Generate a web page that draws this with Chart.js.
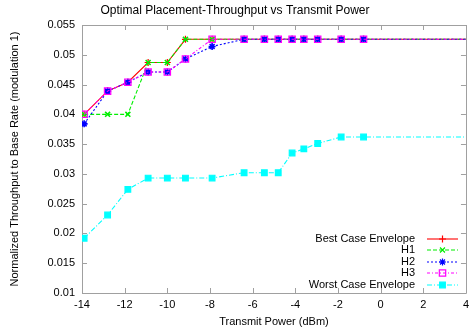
<!DOCTYPE html>
<html>
<head>
<meta charset="utf-8">
<script src="https://cdn.jsdelivr.net/npm/chart.js@4/dist/chart.umd.min.js"></script>
<style>
  html, body { margin: 0; padding: 0; background: #ffffff; }
  #wrap { width: 474px; height: 333px; position: relative; }
</style>
</head>
<body>
<div id="wrap"><canvas id="c" width="474" height="333"></canvas></div>
<script>
// ---- data ----
const power = [-13.9, -12.8, -11.85, -10.9, -10.0, -9.15, -7.9, -6.4, -5.45, -4.8, -4.15, -3.6, -2.95, -1.85, -0.8, 5];
const bestCase = [0.0400, 0.0439, 0.0454, 0.0487, 0.0487, 0.0526, 0.0526, 0.0526, 0.0526, 0.0526, 0.0526, 0.0526, 0.0526, 0.0526, 0.0526, 0.0526];
const h1 = [0.0400, 0.0400, 0.0400, 0.0487, 0.0487, 0.0526, 0.0526, 0.0526, 0.0526, 0.0526, 0.0526, 0.0526, 0.0526, 0.0526, 0.0526, 0.0526];
const h2 = [0.0384, 0.0439, 0.0454, 0.0471, 0.0471, 0.0493, 0.0514, 0.0526, 0.0526, 0.0526, 0.0526, 0.0526, 0.0526, 0.0526, 0.0526, 0.0526];
const h3 = [0.0400, 0.0439, 0.0454, 0.0471, 0.0471, 0.0493, 0.0526, 0.0526, 0.0526, 0.0526, 0.0526, 0.0526, 0.0526, 0.0526, 0.0526, 0.0526];
const worstCase = [0.0192, 0.0231, 0.0274, 0.0293, 0.0293, 0.0293, 0.0293, 0.0302, 0.0302, 0.0302, 0.0335, 0.0342, 0.0351, 0.0362, 0.0362, 0.0362];
const seriesNames = ['Best Case Envelope', 'H1', 'H2', 'H3', 'Worst Case Envelope'];
const xTicks = [-14, -12, -10, -8, -6, -4, -2, 0, 2, 4];
const yTicks = [0.01, 0.015, 0.02, 0.025, 0.03, 0.035, 0.04, 0.045, 0.05, 0.055];
const yTickLabels = ['0.01', '0.015', '0.02', '0.025', '0.03', '0.035', '0.04', '0.045', '0.05', '0.055'];
const chartTitle = 'Optimal Placement-Throughput vs Transmit Power';
const xTitle = 'Transmit Power (dBm)';
const yTitle = 'Normalized Throughput to Base Rate (modulation 1)';

const FONT = "'Liberation Sans', Arial, Helvetica, sans-serif";
const FRAME = '#a0a0a0';

function pts(ys) { return power.map((x, i) => ({ x: x, y: ys[i] })); }

const styles = [
  { color: '#ff0000', dash: [], pointStyle: 'cross', radius: 3.5, fill: '#ff0000' },
  { color: '#00ee00', dash: [4, 2], pointStyle: 'crossRot', radius: 3.5, fill: '#00ee00' },
  { color: '#0000ff', dash: [2, 2], pointStyle: 'star', radius: 3.5, fill: '#0000ff' },
  { color: '#ff00ff', dash: [3, 2, 1, 2], pointStyle: 'rect', radius: 4.5, fill: 'rgba(0,0,0,0)' },
  { color: '#00ffff', dash: [5, 2, 1, 2], pointStyle: 'rect', radius: 4, fill: '#00ffff' }
];
const seriesValues = [bestCase, h1, h2, h3, worstCase];

const datasets = seriesNames.map((name, i) => ({
  label: name,
  data: pts(seriesValues[i]),
  borderColor: styles[i].color,
  backgroundColor: styles[i].fill,
  borderWidth: 1.1,
  borderDash: styles[i].dash,
  pointStyle: styles[i].pointStyle,
  pointRadius: styles[i].radius,
  pointBorderColor: styles[i].color,
  pointBackgroundColor: styles[i].fill,
  pointBorderWidth: (i === 2 || i === 1) ? 1.6 : 1.2,
  tension: 0,
  fill: false,
  order: 5 - i
}));

const framePlugin = {
  id: 'frame',
  beforeDatasetsDraw(chart) {
    const ctx = chart.ctx, a = chart.chartArea;
    const xs = chart.scales.x, ys = chart.scales.y;
    ctx.save();
    ctx.strokeStyle = FRAME;
    ctx.lineWidth = 1;
    ctx.beginPath();
    ctx.rect(Math.round(a.left) + 0.5, Math.round(a.top) + 0.5, Math.round(a.right - a.left), Math.round(a.bottom - a.top));
    ctx.stroke();
    const L = 5;
    ctx.beginPath();
    xTicks.forEach(v => {
      const px = Math.round(xs.getPixelForValue(v)) + 0.5;
      ctx.moveTo(px, a.bottom); ctx.lineTo(px, a.bottom - L);
      ctx.moveTo(px, a.top); ctx.lineTo(px, a.top + L);
    });
    yTicks.forEach(v => {
      const py = Math.round(ys.getPixelForValue(v)) + 0.5;
      ctx.moveTo(a.left, py); ctx.lineTo(a.left + L, py);
      ctx.moveTo(a.right, py); ctx.lineTo(a.right - L, py);
    });
    ctx.stroke();
    ctx.restore();
  }
};

function drawMarker(ctx, st, x, y) {
  const opts = { pointStyle: st.pointStyle, radius: st.radius, borderWidth: 1.2, rotation: 0 };
  ctx.save();
  ctx.setLineDash([]);
  ctx.strokeStyle = st.color;
  ctx.fillStyle = st.fill;
  ctx.lineWidth = 1.2;
  if (Chart.helpers && Chart.helpers.drawPoint) {
    Chart.helpers.drawPoint(ctx, opts, x, y);
  }
  ctx.restore();
}

const legendPlugin = {
  id: 'customLegend',
  afterDraw(chart) {
    const ctx = chart.ctx;
    const textRight = 415, lineL = 427, lineR = 458, y0 = 239, step = 11.4;
    ctx.save();
    ctx.font = '11px ' + FONT;
    ctx.textAlign = 'right';
    ctx.textBaseline = 'middle';
    seriesNames.forEach((name, i) => {
      const y = Math.round(y0 + i * step);
      ctx.fillStyle = '#000000';
      ctx.fillText(name, textRight, y);
      const st = styles[i];
      ctx.globalAlpha = 1;
      ctx.globalCompositeOperation = 'source-over';
      ctx.strokeStyle = st.color;
      ctx.lineWidth = 1.1;
      ctx.setLineDash(st.dash);
      ctx.beginPath();
      ctx.moveTo(lineL, y); ctx.lineTo(lineR, y);
      ctx.stroke();
      drawMarker(ctx, st, (lineL + lineR) / 2, y);
    });
    ctx.restore();
  }
};

new Chart(document.getElementById('c'), {
  type: 'line',
  data: { datasets: datasets },
  options: {
    responsive: false,
    animation: false,
    devicePixelRatio: 1,
    layout: { padding: { left: 0, right: 4, top: 0, bottom: 0 } },
    plugins: {
      legend: { display: false },
      tooltip: { enabled: false },
      title: {
        display: true,
        text: chartTitle,
        color: '#000000',
        font: { family: FONT, size: 12, weight: 'normal' },
        padding: { top: 3, bottom: 7.6 }
      }
    },
    scales: {
      x: {
        type: 'linear',
        min: -14,
        max: 4,
        afterBuildTicks: s => { s.ticks = xTicks.map(v => ({ value: v })); },
        afterFit: s => { s.height = 40; },
        grid: { display: false, drawTicks: false },
        border: { display: false },
        ticks: {
          color: '#000000',
          font: { family: FONT, size: 11 },
          padding: 5,
          maxRotation: 0,
          autoSkip: false,
          callback: v => String(v)
        },
        title: {
          display: true,
          text: xTitle,
          color: '#000000',
          font: { family: FONT, size: 11 },
          padding: { top: 0, bottom: 4.4 }
        }
      },
      y: {
        type: 'linear',
        min: 0.01,
        max: 0.055,
        afterBuildTicks: s => { s.ticks = yTicks.map(v => ({ value: v })); },
        afterFit: s => { s.width = 82; },
        grid: { display: false, drawTicks: false },
        border: { display: false },
        ticks: {
          color: '#000000',
          font: { family: FONT, size: 11 },
          padding: 7,
          autoSkip: false,
          callback: (v, i) => yTickLabels[i]
        },
        title: {
          display: true,
          text: yTitle,
          color: '#000000',
          font: { family: FONT, size: 11 },
          padding: { top: 8.4, bottom: 0 }
        }
      }
    }
  },
  plugins: [framePlugin, legendPlugin]
});
</script>
</body>
</html>
